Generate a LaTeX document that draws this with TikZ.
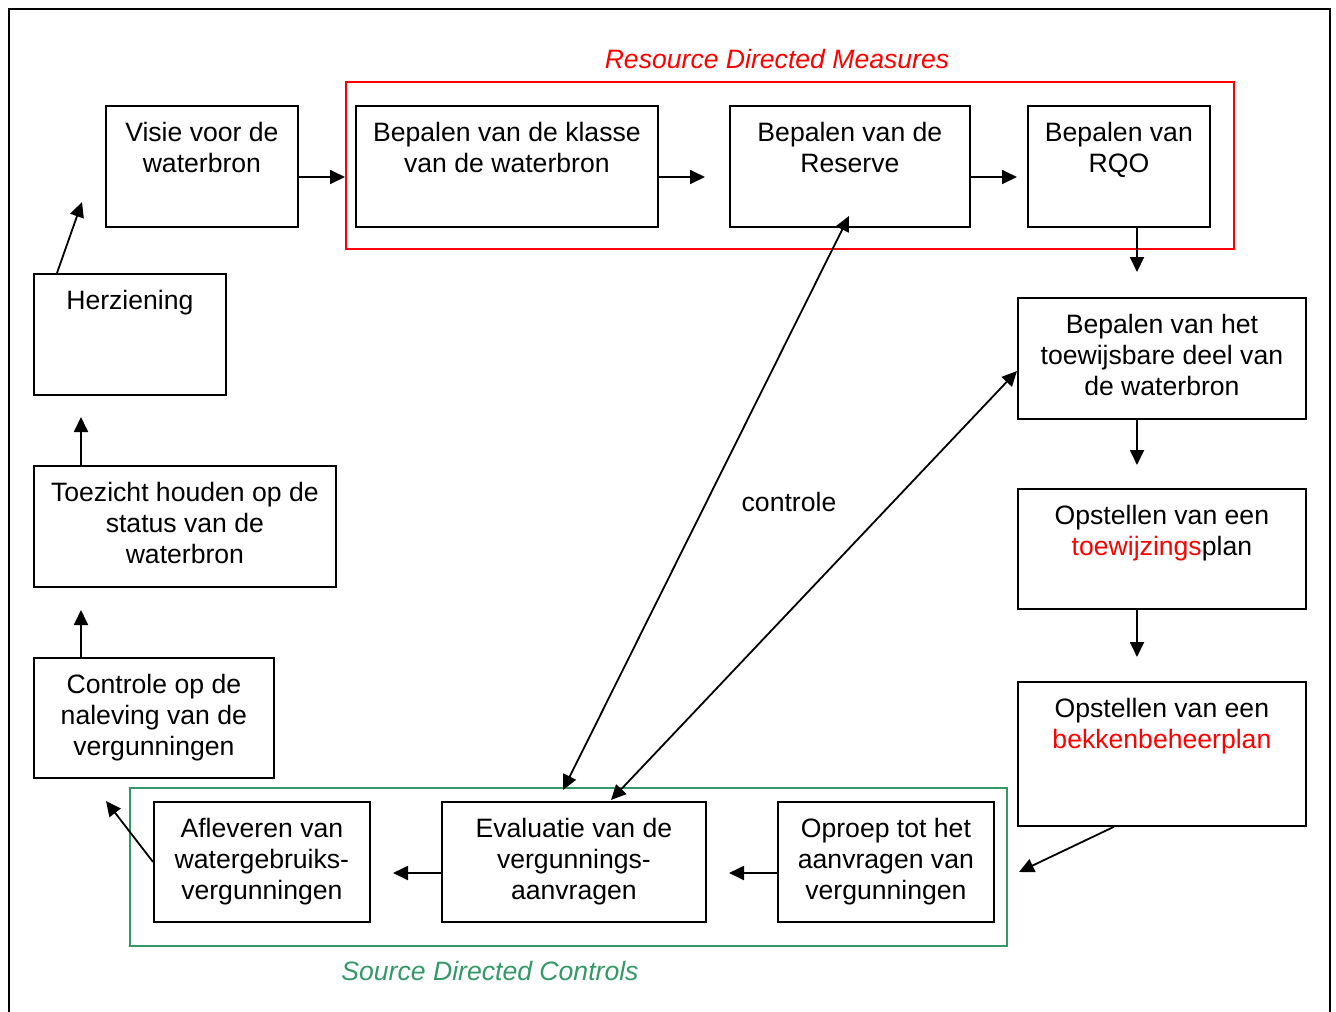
\documentclass[tikz,border=0pt]{standalone}
\usepackage{fontspec}
\setmainfont{Liberation Sans}
\usetikzlibrary{arrows.meta}
\definecolor{rdm}{RGB}{255,0,0}
\definecolor{sdc}{RGB}{51,153,102}
\begin{document}
\begin{tikzpicture}[x=1pt,y=-1pt,
  font=\fontsize{26.6pt}{31pt}\selectfont,
  box/.style={draw=black,line width=1.8pt,inner sep=0pt},
  boxtext/.style={anchor=north,align=center,inner sep=0pt,yshift=-17.5pt},
  arr/.style={line width=1.8pt,-{Triangle[length=15pt,width=14pt]}},
  darr/.style={line width=1.8pt,{Triangle[length=15pt,width=14pt]}-{Triangle[length=15pt,width=14pt]}},
  group/.style={line width=1.6pt,inner sep=0pt},
  title/.style={font=\fontsize{26.6pt}{31pt}\selectfont\itshape,inner sep=0pt}]
\useasboundingbox (0,0) rectangle (1336,1012);
\fill[white] (0,0) rectangle (1336,1012);
% page frame, open at the bottom
\draw[line width=2.8pt] (9,1014) -- (9,9) -- (1330,9) -- (1330,1014);

% group frames
\node[group,draw=rdm,minimum width=888pt,minimum height=167pt,anchor=north west] (rdmframe) at (345,81) {};
\node[group,draw=sdc,minimum width=877pt,minimum height=158pt,anchor=north west] (sdcframe) at (129,787) {};
\node[title,text=rdm] (rdmtitle) at (777,59) {Resource Directed Measures};
\node[title,text=sdc] (sdctitle) at (490,971) {Source Directed Controls};

% process boxes
\newcommand\procbox[6]{%
  \node[box,minimum width=#4pt,minimum height=#5pt,anchor=north west] (#1) at (#2,#3) {};
  \node[boxtext] (#1-t) at (#1.north) {#6};}
\procbox{visie}{105}{105}{192}{121}{Visie voor de\\waterbron}
\procbox{klasse}{355}{105}{302}{121}{Bepalen van de klasse\\van de waterbron}
\procbox{reserve}{729}{105}{240}{121}{Bepalen van de\\Reserve}
\procbox{rqo}{1027}{105}{182}{121}{Bepalen van\\RQO}
\procbox{herz}{33}{273}{192}{121}{Herziening}
\procbox{toewijsbaar}{1017}{297}{288}{121}{Bepalen van het\\toewijsbare deel van\\de waterbron}
\procbox{toezicht}{33}{465}{302}{121}{Toezicht houden op de\\status van de\\waterbron}
\procbox{tplan}{1017}{488}{288}{120}{Opstellen van een\\\textcolor{rdm}{toewijzings}plan}
\procbox{naleving}{33}{657}{240}{120}{Controle op de\\naleving van de\\vergunningen}
\procbox{bplan}{1017}{681}{288}{144}{Opstellen van een\\\textcolor{rdm}{bekkenbeheerplan}}
\procbox{afleveren}{153}{801}{216}{120}{Afleveren van\\watergebruiks-\\vergunningen}
\procbox{evaluatie}{441}{801}{264}{120}{Evaluatie van de\\vergunnings-\\aanvragen}
\procbox{oproep}{777}{801}{216}{120}{Oproep tot het\\aanvragen van\\vergunningen}

\node[inner sep=0pt] (controle) at (789,502) {controle};

% free arrow ends
\coordinate (e1) at (345,177);
\coordinate (e2) at (705,177);
\coordinate (e3) at (1017,177);
\coordinate (e4) at (1137,272);
\coordinate (e5) at (1137,465);
\coordinate (e6) at (1137,657);
\coordinate (e7) at (1019,872);
\coordinate (e8) at (729,873);
\coordinate (e9) at (393,873);
\coordinate (e10) at (106,801);
\coordinate (e11) at (81,610);
\coordinate (e12) at (81,417);
\coordinate (e13) at (82,202);
\coordinate (d1a) at (849,216);
\coordinate (d1b) at (563,790);
\coordinate (d2a) at (1017,371);
\coordinate (d2b) at (611,800);

% flow
\draw[arr] (visie.east |- e1) -- (e1);
\draw[arr] (klasse.east |- e2) -- (e2);
\draw[arr] (reserve.east |- e3) -- (e3);
\draw[arr] (rqo.south -| e4) -- (e4);
\draw[arr] (toewijsbaar.south -| e5) -- (e5);
\draw[arr] (tplan.south -| e6) -- (e6);
\draw[arr] ([xshift=-48pt]bplan.south) -- (e7);
\draw[arr] (oproep.west |- e8) -- (e8);
\draw[arr] (evaluatie.west |- e9) -- (e9);
\draw[arr] (afleveren.west) -- (e10);
\draw[arr] (naleving.north -| e11) -- (e11);
\draw[arr] (toezicht.north -| e12) -- (e12);
\draw[arr] ([xshift=24pt]herz.north west) -- (e13);
\draw[darr] (d1a) -- (d1b);
\draw[darr] (d2a) -- (d2b);
\end{tikzpicture}
\end{document}
